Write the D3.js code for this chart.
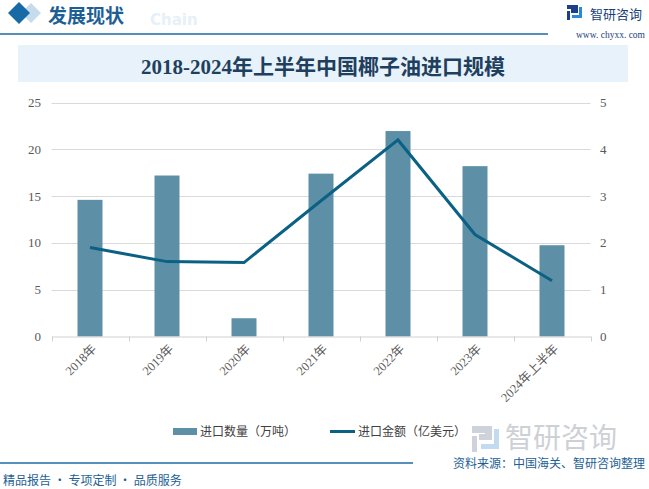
<!DOCTYPE html>
<html><head><meta charset="utf-8">
<script src="https://cdn.jsdelivr.net/npm/d3@7"></script>
<style>
body{margin:0;background:#fff;}
svg{display:block;}
</style></head>
<body>
<svg id="c" width="649" height="489"></svg>
<script>
const categories = ["2018年","2019年","2020年","2021年","2022年","2023年","2024年上半年"];
const volume = [14.6, 17.2, 1.95, 17.4, 21.95, 18.2, 9.75];   // 万吨
const value  = [1.90, 1.60, 1.58, 2.90, 4.20, 2.18, 1.19];    // 亿美元
const leftTicks = [0,5,10,15,20,25];
const rightTicks = [0,1,2,3,4,5];

const svg = d3.select("#c");
const cjk = "'Noto Sans CJK SC','Noto Sans',sans-serif";
const serif = "'Liberation Serif','DejaVu Serif','Noto Sans CJK SC',serif";

// ---- header ----
svg.append("path").attr("d","M31,3 L41,13 L31,23 L21,13 Z").attr("fill","#c6dcec");
svg.append("path").attr("d","M19,2 L30,13 L19,24 L8,13 Z").attr("fill","#176aa6");
svg.append("text").attr("x",150).attr("y",25).text("Chain")
  .attr("font-family","'DejaVu Sans',sans-serif").attr("font-weight","bold").attr("font-size",15).attr("fill","#e6f0f8");
svg.append("text").attr("x",48).attr("y",23).text("发展现状")
  .attr("font-family",cjk).attr("font-weight","bold").attr("font-size",19).attr("fill","#1d5f95");
svg.append("line").attr("x1",0).attr("x2",548).attr("y1",34).attr("y2",34).attr("stroke","#1d6aa5").attr("stroke-width",1.5);
// logo
const lg = svg.append("g").attr("transform","translate(567,5)");
lg.append("path").attr("d","M0,0 H11 V8 H4 V4 H7 V4 H0 Z").attr("fill","#1b3f8a");
lg.append("rect").attr("x",0).attr("y",6).attr("width",3).attr("height",9).attr("fill","#1b3f8a");
lg.append("rect").attr("x",5).attr("y",10).attr("width",9).attr("height",3).attr("fill","#2b8ad6");
lg.append("rect").attr("x",12).attr("y",2).attr("width",3).attr("height",11).attr("fill","#2b8ad6");
svg.append("text").attr("x",590).attr("y",19).text("智研咨询")
  .attr("font-family",cjk).attr("font-size",13).attr("fill","#1a3f7a");
svg.append("text").attr("x",645).attr("y",38).attr("text-anchor","end").text("www. chyxx. com")
  .attr("font-family",serif).attr("font-size",9.5).attr("fill","#1a3f7a");

// ---- title box ----
svg.append("rect").attr("x",18).attr("y",45).attr("width",610).attr("height",37).attr("fill","#e7f2fa");
svg.append("text").attr("x",323).attr("y",74).attr("text-anchor","middle")
  .text("2018-2024年上半年中国椰子油进口规模")
  .attr("font-family",serif).attr("font-weight","bold").attr("font-size",21).attr("fill","#1f3f5e");

// ---- chart ----
const x0 = 51.5, x1 = 590.5, yTop = 102.5, yBot = 336.5;
const x = d3.scaleBand().domain(categories).range([x0,x1]).paddingInner(0).paddingOuter(0);
const yL = d3.scaleLinear().domain([0,25]).range([yBot,yTop]);
const yR = d3.scaleLinear().domain([0,5]).range([yBot,yTop]);

// gridlines
svg.append("g").selectAll("line").data(leftTicks.filter(d=>d>0)).join("line")
  .attr("x1",x0).attr("x2",x1).attr("y1",d=>Math.round(yL(d))+0.5).attr("y2",d=>Math.round(yL(d))+0.5)
  .attr("stroke","#d9d9d9").attr("stroke-width",1);

// left axis labels
svg.append("g").selectAll("text").data(leftTicks).join("text")
  .attr("x",41).attr("y",d=>yL(d)+4.5).attr("text-anchor","end").text(d=>d)
  .attr("font-family",serif).attr("font-size",13).attr("fill","#595959");
// right axis labels
svg.append("g").selectAll("text").data(rightTicks).join("text")
  .attr("x",600).attr("y",d=>yR(d)+4.5).attr("text-anchor","start").text(d=>d)
  .attr("font-family",serif).attr("font-size",13).attr("fill","#595959");

// bars
const bw = 25;
svg.append("g").selectAll("rect").data(categories).join("rect")
  .attr("x",(d)=>x(d)+x.bandwidth()/2-bw/2).attr("width",bw)
  .attr("y",(d,i)=>yL(volume[i])).attr("height",(d,i)=>yBot-yL(volume[i]))
  .attr("fill","#5d90a7");

// bottom axis
const xAxis = d3.axisBottom(x).tickSize(0).tickFormat("");
const ax = svg.append("g").attr("transform",`translate(0,${yBot})`).call(xAxis);
ax.select(".domain").attr("stroke","#d0d0d0");
const bounds = d3.range(categories.length+1).map(i=>x0+i*x.bandwidth());
svg.append("g").selectAll("line").data(bounds).join("line")
  .attr("x1",d=>Math.round(d)+0.5).attr("x2",d=>Math.round(d)+0.5).attr("y1",yBot).attr("y2",yBot+5)
  .attr("stroke","#d0d0d0");
svg.append("g").selectAll("text").data(categories).join("text")
  .attr("transform",d=>`translate(${x(d)+x.bandwidth()/2+4},${yBot+10}) rotate(-45)`)
  .attr("text-anchor","end").attr("dy","0.35em").text(d=>d)
  .attr("font-family",serif).attr("font-size",12.5).attr("fill","#595959");

// line
const line = d3.line().x((d,i)=>x(categories[i])+x.bandwidth()/2).y(d=>yR(d));
svg.append("path").datum(value).attr("d",line).attr("fill","none")
  .attr("stroke","#0b6183").attr("stroke-width",3).attr("stroke-linejoin","miter");

// legend
svg.append("rect").attr("x",173).attr("y",428).attr("width",24).attr("height",7).attr("fill","#5d90a7");
svg.append("text").attr("x",200).attr("y",436).text("进口数量（万吨）")
  .attr("font-family",cjk).attr("font-size",12).attr("fill","#404040");
svg.append("line").attr("x1",330).attr("x2",355).attr("y1",431.5).attr("y2",431.5).attr("stroke","#0b6183").attr("stroke-width",3);
svg.append("text").attr("x",358).attr("y",436).text("进口金额（亿美元）")
  .attr("font-family",cjk).attr("font-size",12).attr("fill","#404040");

// watermark logo bottom-right
const wg = svg.append("g").attr("transform","translate(472,426)").attr("opacity",0.9);
wg.append("path").attr("d","M0,0 H20 V14 H7 V8 H13 V7 H0 Z").attr("fill","#c9ced6");
wg.append("rect").attr("x",0).attr("y",10).attr("width",5).attr("height",16).attr("fill","#c9ced6");
wg.append("rect").attr("x",9).attr("y",18).attr("width",16).attr("height",5).attr("fill","#bcd8ef");
wg.append("rect").attr("x",22).attr("y",3).attr("width",5).attr("height",20).attr("fill","#bcd8ef");
svg.append("text").attr("x",505).attr("y",448).text("智研咨询")
  .attr("font-family",cjk).attr("font-size",28).attr("fill","#cdd1d6");

// footer
svg.append("line").attr("x1",0).attr("x2",413).attr("y1",463).attr("y2",463).attr("stroke","#1d6aa5").attr("stroke-width",1.5);
svg.append("text").attr("x",645).attr("y",468).attr("text-anchor","end").text("资料来源：中国海关、智研咨询整理")
  .attr("font-family",cjk).attr("font-size",12).attr("fill","#1d5f95");
svg.append("text").attr("x",3).attr("y",485).text("精品报告 · 专项定制 · 品质服务")
  .attr("font-family",cjk).attr("font-size",12).attr("fill","#1d5f95");
</script>
</body></html>
